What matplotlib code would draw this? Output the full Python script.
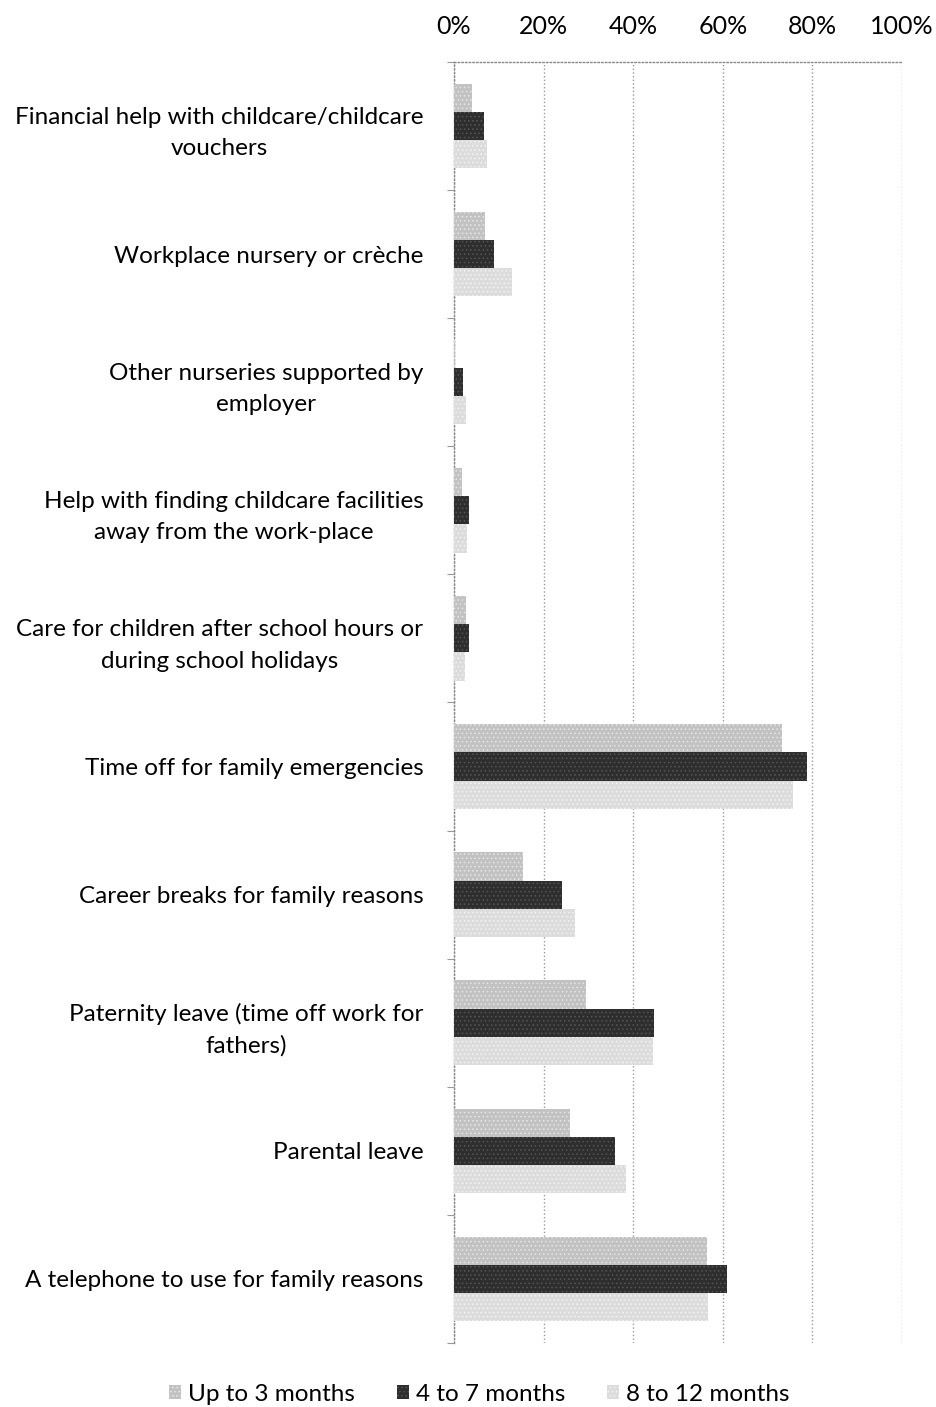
import numpy as np
import matplotlib.pyplot as plt
from matplotlib.ticker import FixedLocator, PercentFormatter

plt.rcParams['font.family'] = ['Lato', 'DejaVu Sans']
plt.rcParams['hatch.linewidth'] = 0.6

# Apoios do empregador (de cima para baixo)
categorias = [
    "Financial help with childcare/childcare\nvouchers",
    "Workplace nursery or crèche",
    "Other nurseries supported by\nemployer",
    "Help with finding childcare facilities\naway from the work-place",
    "Care for children after school hours or\nduring school holidays",
    "Time off for family emergencies",
    "Career breaks for family reasons",
    "Paternity leave (time off work for\nfathers)",
    "Parental leave",
    "A telephone to use for family reasons",
]

series = ["Up to 3 months", "4 to 7 months", "8 to 12 months"]

ate_3_meses = [4.0, 6.9, 0.3, 1.8, 2.7, 73.2, 15.4, 29.5, 25.9, 56.5]
de_4_a_7 = [6.7, 8.9, 2.0, 3.3, 3.3, 78.8, 24.1, 44.6, 35.9, 60.9]
de_8_a_12 = [7.4, 12.9, 2.7, 3.0, 2.5, 75.7, 27.0, 44.4, 38.4, 56.7]

cores = ['#c2c2c2', '#2e2e2e', '#dcdcdc']
cores_pontos = ['#e6e6e6', '#555555', '#f4f4f4']

fig = plt.figure(figsize=(9.36, 14.07), dpi=100)
ax = fig.add_axes([0.485, 0.0455, 0.4787, 0.9105])

y = np.arange(len(categorias))
altura = 0.22
dados = [ate_3_meses, de_4_a_7, de_8_a_12]
for i, (valores, nome, cor, pontos) in enumerate(zip(dados, series, cores, cores_pontos)):
    ax.barh(y + (i - 1) * altura, valores, height=altura, color=cor,
            edgecolor=pontos, linewidth=0, hatch='....', label=nome, zorder=3)

ax.set_xlim(0, 100)
ax.set_ylim(len(categorias) - 0.5, -0.5)
ax.xaxis.tick_top()
ax.xaxis.set_major_locator(FixedLocator([0, 20, 40, 60, 80, 100]))
ax.xaxis.set_major_formatter(PercentFormatter(decimals=0))
ax.tick_params(axis='x', length=0, pad=17, labelsize=18)

ax.set_yticks(y)
ax.set_yticklabels(categorias, fontsize=17.5, multialignment='center',
                   linespacing=1.6)
ax.tick_params(axis='y', which='major', length=0, pad=22)
ax.yaxis.set_minor_locator(FixedLocator(np.arange(-0.5, len(categorias) + 0.5, 1)))
ax.tick_params(axis='y', which='minor', length=5, color='#999999', width=0.8)

ax.grid(axis='x', linestyle=':', color='#999999', linewidth=1, zorder=0)
for lado in ['right', 'bottom']:
    ax.spines[lado].set_visible(False)
for lado in ['left', 'top']:
    ax.spines[lado].set_linestyle(':')
    ax.spines[lado].set_color('#888888')
    ax.spines[lado].set_linewidth(1)

fig.legend(loc='lower center', bbox_to_anchor=(0.512, -0.014), ncol=3, frameon=False,
           fontsize=17.5, handlelength=0.5, handleheight=0.5, handletextpad=0.3,
           columnspacing=1.7)

fig.savefig('out.png', dpi=100)
